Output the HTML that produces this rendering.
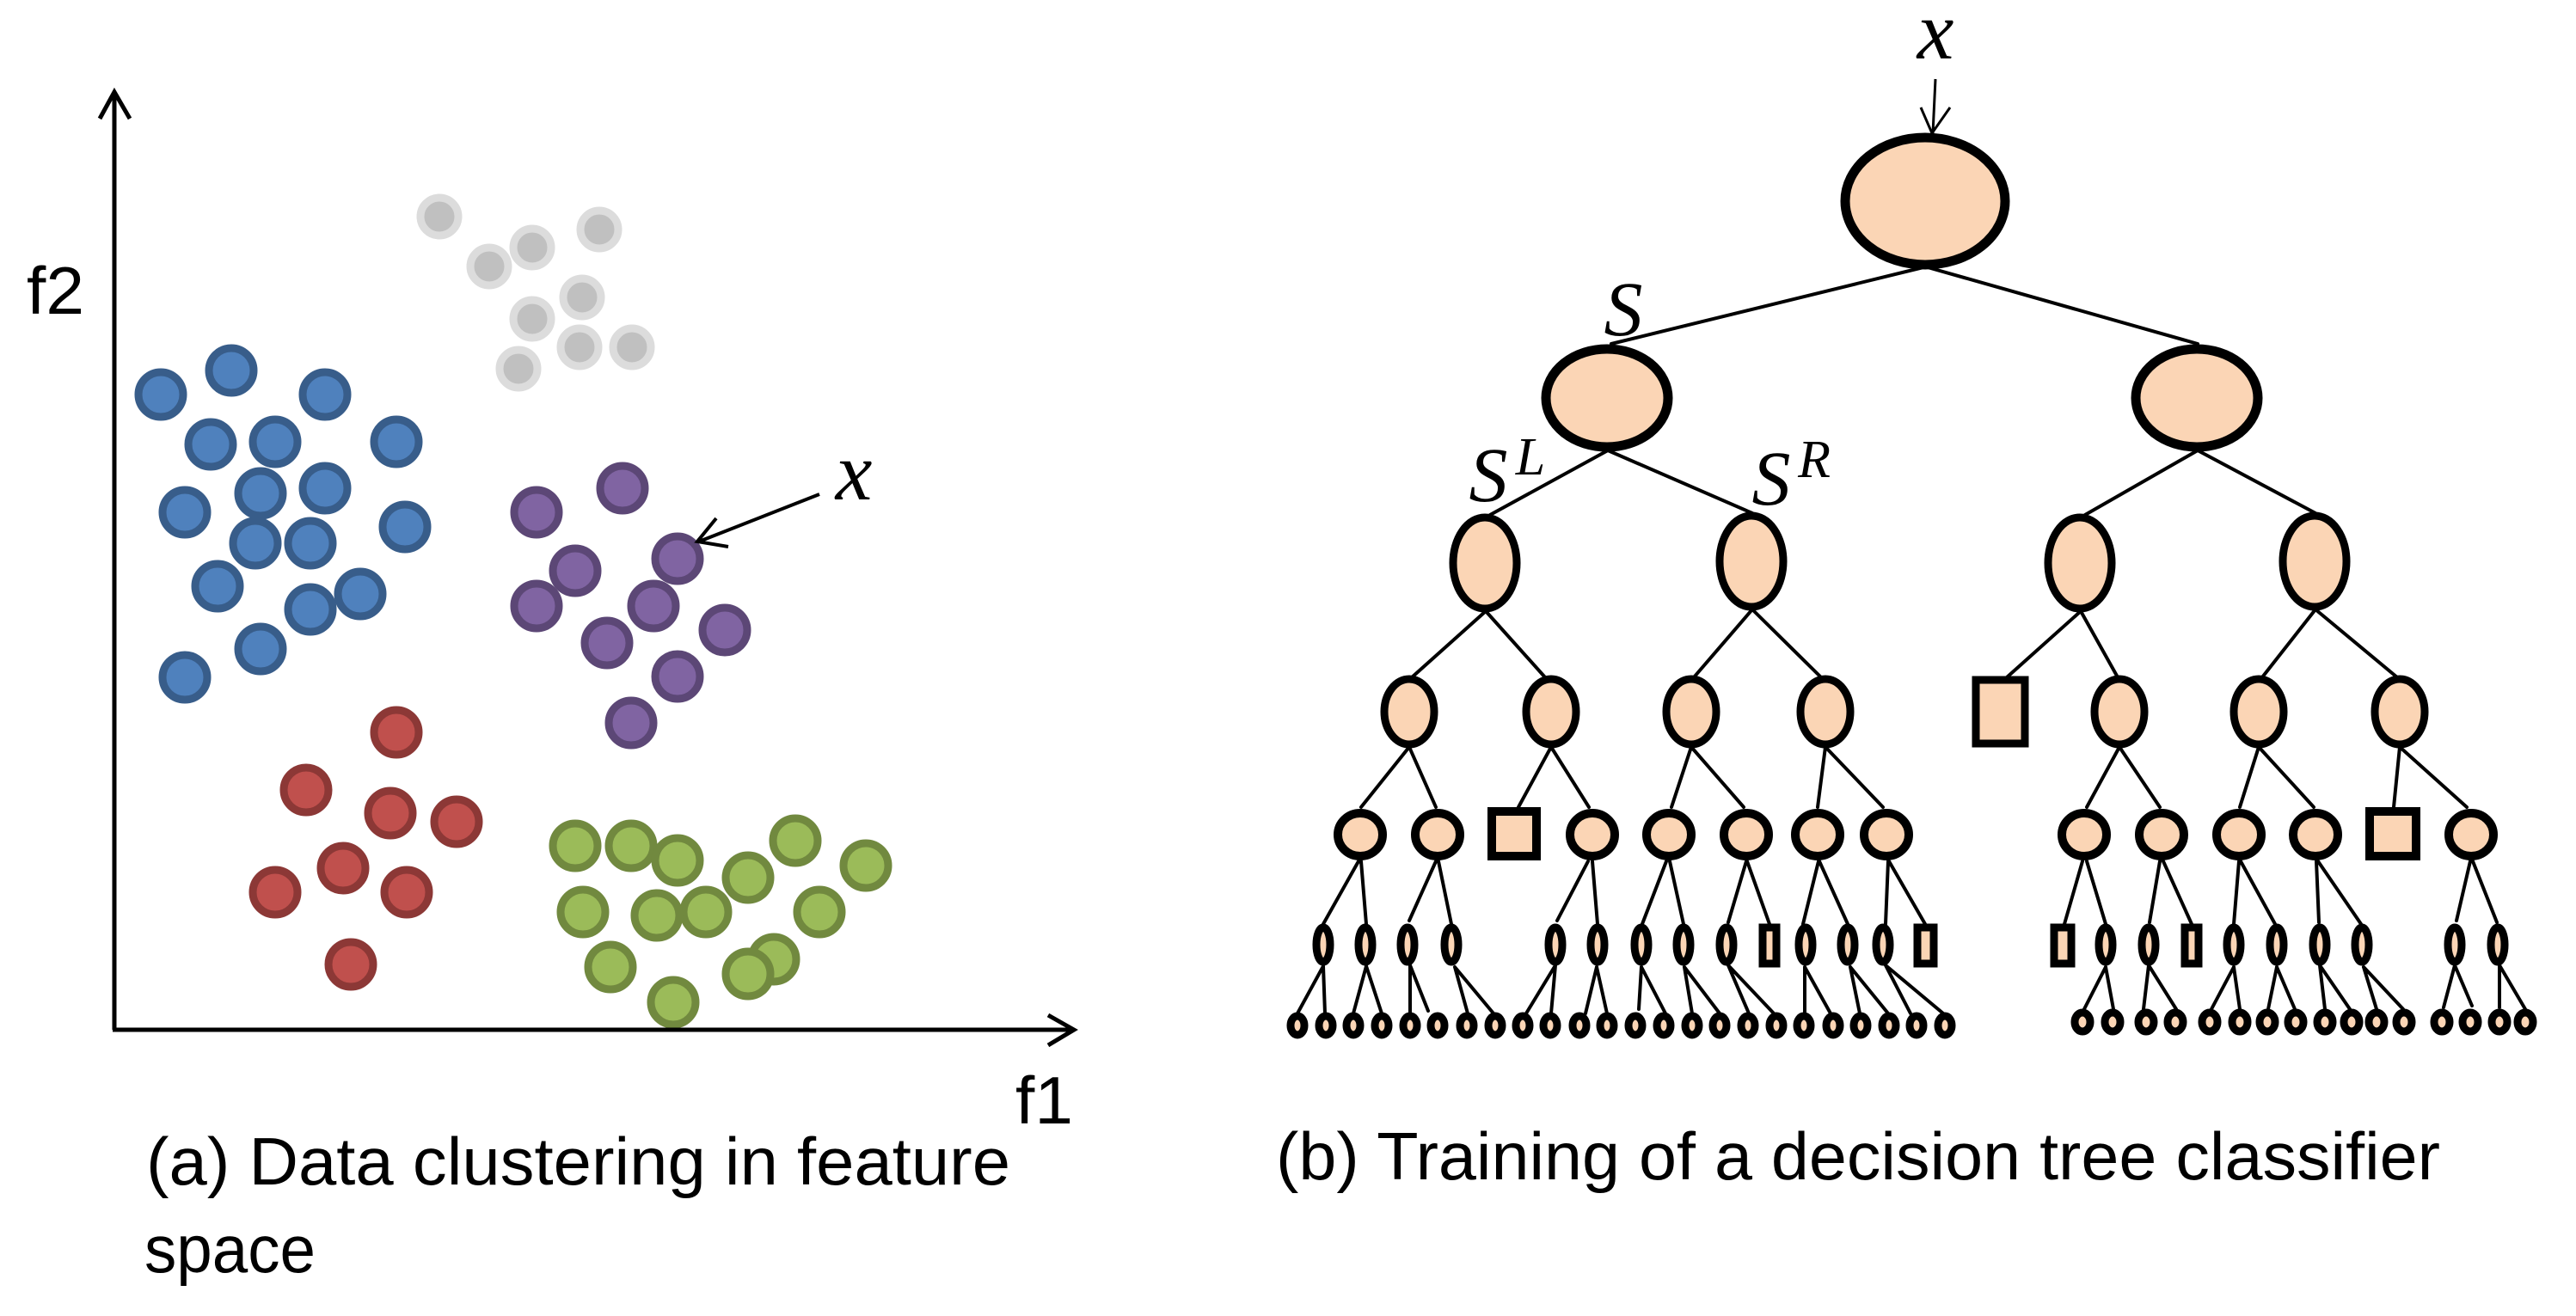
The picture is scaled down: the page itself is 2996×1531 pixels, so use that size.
<!DOCTYPE html>
<html><head><meta charset="utf-8"><style>html,body{margin:0;padding:0;background:#fff}svg{display:block}</style></head>
<body>
<svg xmlns="http://www.w3.org/2000/svg" width="2996" height="1531" viewBox="0 0 2996 1531">
<rect width="2996" height="1531" fill="#fff"/>
<g fill="#c0c0c0" stroke="#dcdcdc" stroke-width="9">
<circle cx="511" cy="252" r="22"/><circle cx="569" cy="310" r="22"/><circle cx="619" cy="288" r="22"/><circle cx="697" cy="267" r="22"/><circle cx="677" cy="346" r="22"/><circle cx="619" cy="371" r="22"/><circle cx="674" cy="404" r="22"/><circle cx="735" cy="404" r="22"/><circle cx="603" cy="429" r="22"/>
</g>
<g fill="#4f81bd" stroke="#385d8a" stroke-width="9">
<circle cx="187" cy="459" r="26"/><circle cx="269" cy="431" r="26"/><circle cx="378" cy="459" r="26"/><circle cx="245" cy="517" r="26"/><circle cx="320" cy="514" r="26"/><circle cx="461" cy="514" r="26"/><circle cx="215" cy="596" r="26"/><circle cx="378" cy="568" r="26"/><circle cx="303" cy="574" r="26"/><circle cx="471" cy="613" r="26"/><circle cx="361" cy="632" r="26"/><circle cx="297" cy="632" r="26"/><circle cx="253" cy="682" r="26"/><circle cx="419" cy="691" r="26"/><circle cx="361" cy="709" r="26"/><circle cx="303" cy="755" r="26"/><circle cx="215" cy="788" r="26"/>
</g>
<g fill="#8064a2" stroke="#5c4776" stroke-width="9">
<circle cx="724" cy="568" r="26"/><circle cx="624" cy="596" r="26"/><circle cx="788" cy="650" r="26"/><circle cx="669" cy="664" r="26"/><circle cx="624" cy="705" r="26"/><circle cx="760" cy="705" r="26"/><circle cx="843" cy="733" r="26"/><circle cx="706" cy="748" r="26"/><circle cx="788" cy="787" r="26"/><circle cx="734" cy="841" r="26"/>
</g>
<g fill="#c0504d" stroke="#8c3836" stroke-width="9">
<circle cx="461" cy="852" r="26"/><circle cx="356" cy="919" r="26"/><circle cx="454" cy="946" r="26"/><circle cx="531" cy="956" r="26"/><circle cx="399" cy="1010" r="26"/><circle cx="320" cy="1038" r="26"/><circle cx="473" cy="1038" r="26"/><circle cx="408" cy="1122" r="26"/>
</g>
<g fill="#9bbb59" stroke="#71893f" stroke-width="9">
<circle cx="669" cy="984" r="26"/><circle cx="734" cy="984" r="26"/><circle cx="788" cy="1001" r="26"/><circle cx="925" cy="978" r="26"/><circle cx="870" cy="1021" r="26"/><circle cx="1007" cy="1007" r="26"/><circle cx="678" cy="1061" r="26"/><circle cx="821" cy="1061" r="26"/><circle cx="764" cy="1065" r="26"/><circle cx="953" cy="1061" r="26"/><circle cx="710" cy="1125" r="26"/><circle cx="900" cy="1116" r="26"/><circle cx="870" cy="1133" r="26"/><circle cx="783" cy="1166" r="26"/>
</g>
<g fill="none" stroke="#000" stroke-width="5">
<path d="M133 1198V107M116 138L133 107L151 138"/>
<path d="M131 1198H1248M1219 1181L1249 1198L1219 1216"/>
<path d="M953 575L813 630M833 603L811 630L847 636" stroke-width="4"/>
<path d="M2251 92L2248 155M2234 125L2247 155L2268 125" stroke-width="3"/>
</g>
<g fill="none" stroke="#000" stroke-width="4" stroke-linecap="round">
<path d="M2237 311L1874 400M2242 311L2556 400"/>
<path d="M1870 524L1733 599M1870 524L2038 597M2556 524L2425 599M2556 524L2693 597"/>
<path d="M1728 711L1642 788M1728 711L1797 788M2038 709L1970 788M2038 709L2118 788M2420 711L2334 788M2420 711L2463 788M2693 709L2631 788M2693 709L2788 788"/>
<path d="M1639 869L1583 939M1639 869L1670 939M1804 869L1766 939M1804 869L1848 939M1967 869L1944 939M1967 869L2028 939M2123 869L2114 939M2123 869L2190 939M2465 869L2427 939M2465 869L2512 939M2627 869L2605 939M2627 869L2691 939M2791 869L2784 939M2791 869L2869 939"/>
<path d="M1580 1002L1539 1075M1583 1002L1589 1075M1670 1002L1639 1071M1673 1002L1688 1075M1847 1002L1811 1071M1852 1002L1858 1075M1938 1002L1910 1075M1942 1002L1958 1075M2031 1002L2010 1073M2032 1002L2058 1075M2115 1002L2097 1075M2116 1002L2149 1075M2196 1002L2193 1075M2197 1002L2239 1075"/>
<path d="M2422 1002L2401 1075M2427 1002L2449 1075M2512 1002L2500 1073M2516 1002L2549 1075M2604 1002L2598 1075M2606 1002L2646 1075M2694 1002L2697 1073M2696 1002L2746 1075M2873 1002L2857 1071M2876 1002L2904 1073"/>
<path d="M1539 1124L1509 1179M1539 1124L1541 1179M1589 1124L1574 1179M1589 1124L1607 1179M1640 1123V1179M1640 1123L1661 1176M1692 1125L1707 1179M1692 1125L1737 1179M1809 1123L1775 1179M1809 1123L1804 1179M1857 1125L1844 1179M1857 1125L1869 1179M1909 1125L1906 1174M1909 1125L1937 1179M1959 1125L1968 1179M1959 1125L2000 1179M2010 1123L2034 1179M2010 1123L2063 1179M2099 1125V1179M2099 1125L2129 1179M2152 1125L2163 1179M2152 1125L2196 1179M2193 1123L2222 1179M2193 1123L2260 1179"/>
<path d="M2449 1125L2424 1174M2449 1125L2458 1174M2499 1123L2493 1174M2499 1123L2531 1174M2598 1125L2572 1174M2598 1125L2605 1174M2648 1125L2638 1174M2648 1125L2669 1174M2698 1123L2704 1174M2698 1123L2733 1174M2749 1125L2764 1174M2749 1125L2795 1174M2855 1123L2842 1172M2855 1123L2875 1170M2907 1123V1172M2907 1123L2937 1174"/>
</g>
<g fill="#fbd5b5" stroke="#000" stroke-width="11">
<ellipse cx="2239" cy="234" rx="93" ry="74"/>
<ellipse cx="1869" cy="463" rx="71" ry="57"/><ellipse cx="2555" cy="463" rx="71" ry="57"/>
<g stroke-width="9"><ellipse cx="1727" cy="655" rx="37" ry="53"/><ellipse cx="2037" cy="653" rx="37" ry="53"/><ellipse cx="2419" cy="655" rx="37" ry="53"/><ellipse cx="2692" cy="653" rx="37" ry="53"/>
<ellipse cx="1639" cy="828" rx="29" ry="38"/><ellipse cx="1804" cy="828" rx="29" ry="38"/><ellipse cx="1967" cy="828" rx="29" ry="38"/><ellipse cx="2123" cy="828" rx="29" ry="38"/><ellipse cx="2465" cy="828" rx="29" ry="38"/><ellipse cx="2627" cy="828" rx="29" ry="38"/><ellipse cx="2791" cy="828" rx="29" ry="38"/>
<rect x="2298" y="791" width="57" height="74"/></g>
<g stroke-width="10"><ellipse cx="1582" cy="971" rx="26" ry="25"/><ellipse cx="1672" cy="971" rx="26" ry="25"/><ellipse cx="1852" cy="971" rx="26" ry="25"/><ellipse cx="1941" cy="971" rx="26" ry="25"/><ellipse cx="2031" cy="971" rx="26" ry="25"/><ellipse cx="2114" cy="971" rx="26" ry="25"/><ellipse cx="2194" cy="971" rx="26" ry="25"/><ellipse cx="2424" cy="971" rx="26" ry="25"/><ellipse cx="2514" cy="971" rx="26" ry="25"/><ellipse cx="2604" cy="971" rx="26" ry="25"/><ellipse cx="2693" cy="971" rx="26" ry="25"/><ellipse cx="2874" cy="971" rx="26" ry="25"/>
<rect x="1735" y="944" width="52" height="52"/><rect x="2756" y="944" width="54" height="52"/></g>
<g stroke-width="9"><ellipse cx="1539" cy="1099" rx="8" ry="20"/><ellipse cx="1588" cy="1099" rx="8" ry="20"/><ellipse cx="1637" cy="1099" rx="8" ry="20"/><ellipse cx="1688" cy="1099" rx="8" ry="20"/><ellipse cx="1809" cy="1099" rx="8" ry="20"/><ellipse cx="1858" cy="1099" rx="8" ry="20"/><ellipse cx="1909" cy="1099" rx="8" ry="20"/><ellipse cx="1958" cy="1099" rx="8" ry="20"/><ellipse cx="2008" cy="1099" rx="8" ry="20"/><ellipse cx="2100" cy="1099" rx="8" ry="20"/><ellipse cx="2149" cy="1099" rx="8" ry="20"/><ellipse cx="2190" cy="1099" rx="8" ry="20"/>
<ellipse cx="2449" cy="1099" rx="8" ry="20"/><ellipse cx="2499" cy="1099" rx="8" ry="20"/><ellipse cx="2598" cy="1099" rx="8" ry="20"/><ellipse cx="2648" cy="1099" rx="8" ry="20"/><ellipse cx="2698" cy="1099" rx="8" ry="20"/><ellipse cx="2747" cy="1099" rx="8" ry="20"/><ellipse cx="2855" cy="1099" rx="8" ry="20"/><ellipse cx="2905" cy="1099" rx="8" ry="20"/>
<rect x="2050" y="1079" width="16" height="42"/><rect x="2230" y="1079" width="19" height="42"/><rect x="2389" y="1079" width="20" height="42"/><rect x="2541" y="1079" width="16" height="42"/></g>
<g stroke-width="9"><ellipse cx="1509" cy="1193" rx="8" ry="11"/><ellipse cx="1542" cy="1193" rx="8" ry="11"/><ellipse cx="1574" cy="1193" rx="8" ry="11"/><ellipse cx="1607" cy="1193" rx="8" ry="11"/><ellipse cx="1640" cy="1193" rx="8" ry="11"/><ellipse cx="1672" cy="1193" rx="8" ry="11"/><ellipse cx="1706" cy="1193" rx="8" ry="11"/><ellipse cx="1739" cy="1193" rx="8" ry="11"/><ellipse cx="1771" cy="1193" rx="8" ry="11"/><ellipse cx="1803" cy="1193" rx="8" ry="11"/><ellipse cx="1837" cy="1193" rx="8" ry="11"/><ellipse cx="1869" cy="1193" rx="8" ry="11"/><ellipse cx="1902" cy="1193" rx="8" ry="11"/><ellipse cx="1935" cy="1193" rx="8" ry="11"/><ellipse cx="1968" cy="1193" rx="8" ry="11"/><ellipse cx="2000" cy="1193" rx="8" ry="11"/><ellipse cx="2033" cy="1193" rx="8" ry="11"/><ellipse cx="2066" cy="1193" rx="8" ry="11"/><ellipse cx="2098" cy="1193" rx="8" ry="11"/><ellipse cx="2132" cy="1193" rx="8" ry="11"/><ellipse cx="2164" cy="1193" rx="8" ry="11"/><ellipse cx="2197" cy="1193" rx="8" ry="11"/><ellipse cx="2229" cy="1193" rx="8" ry="11"/><ellipse cx="2262" cy="1193" rx="8" ry="11"/>
<ellipse cx="2422" cy="1189" rx="9" ry="11"/><ellipse cx="2457" cy="1189" rx="9" ry="11"/><ellipse cx="2496" cy="1189" rx="9" ry="11"/><ellipse cx="2530" cy="1189" rx="9" ry="11"/><ellipse cx="2570" cy="1189" rx="9" ry="11"/><ellipse cx="2605" cy="1189" rx="9" ry="11"/><ellipse cx="2637" cy="1189" rx="9" ry="11"/><ellipse cx="2670" cy="1189" rx="9" ry="11"/><ellipse cx="2704" cy="1189" rx="9" ry="11"/><ellipse cx="2735" cy="1189" rx="9" ry="11"/><ellipse cx="2764" cy="1189" rx="9" ry="11"/><ellipse cx="2796" cy="1189" rx="9" ry="11"/><ellipse cx="2840" cy="1189" rx="9" ry="11"/><ellipse cx="2873" cy="1189" rx="9" ry="11"/><ellipse cx="2907" cy="1189" rx="9" ry="11"/><ellipse cx="2937" cy="1189" rx="9" ry="11"/></g>
</g>
<g font-family="'Liberation Sans',sans-serif" font-size="78" fill="#000">
<text x="31" y="365" textLength="67" lengthAdjust="spacingAndGlyphs">f2</text>
<text x="1181" y="1307" textLength="67" lengthAdjust="spacingAndGlyphs">f1</text>
<text x="170" y="1378" textLength="1005" lengthAdjust="spacingAndGlyphs">(a) Data clustering in feature</text>
<text x="168" y="1480" textLength="199" lengthAdjust="spacingAndGlyphs">space</text>
<text x="1484" y="1372" textLength="1354" lengthAdjust="spacingAndGlyphs">(b) Training of a decision tree classifier</text>
</g>
<g font-family="'Liberation Serif',serif" font-style="italic" fill="#000">
<text x="993" y="581" font-size="96" text-anchor="middle">x</text>
<text x="2251" y="68" font-size="96" text-anchor="middle">x</text>
<text x="1888" y="390" font-size="90" text-anchor="middle">S</text>
<text x="1731" y="583" font-size="90" text-anchor="middle">S</text>
<text x="1780" y="552" font-size="62" text-anchor="middle">L</text>
<text x="2060" y="587" font-size="90" text-anchor="middle">S</text>
<text x="2110" y="555" font-size="62" text-anchor="middle">R</text>
</g>
</svg>
</body></html>
